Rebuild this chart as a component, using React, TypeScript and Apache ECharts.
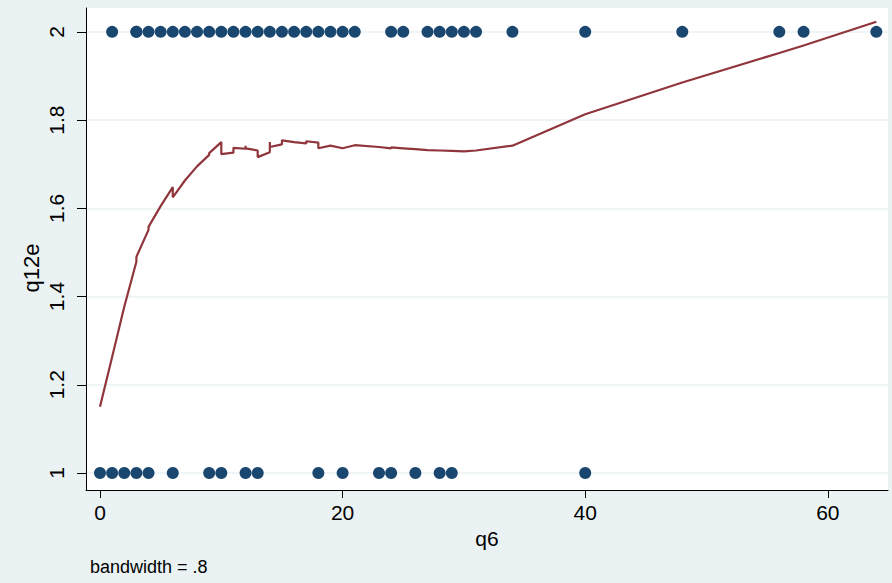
import React, { useEffect, useRef } from "react";
import * as echarts from "echarts";

// Observed q6 values where q12e = 2 and q12e = 1
const q6WhenTwo = [1, 3, 3, 4, 5, 6, 7, 8, 9, 10, 11, 12, 13, 14, 15, 16, 17, 18, 19, 20, 21, 24, 25, 27, 28, 29, 30, 31, 34, 40, 48, 56, 58, 64];
const q6WhenOne = [0, 1, 2, 3, 4, 6, 9, 10, 12, 13, 18, 20, 23, 24, 26, 28, 29, 40];

// Lowess smooth (bandwidth .8): q6 and fitted q12e, repeated q6 values give the small steps
const smoothX = [0, 1, 2, 3, 3, 4, 4, 5, 6, 6, 7, 8, 9, 9, 10, 10, 11, 11, 12, 12, 12, 13, 13, 14, 14, 14, 15, 15, 16, 17, 17, 18, 18, 19, 20, 21, 23, 24, 24, 25, 26, 27, 28, 29, 30, 31, 34, 40, 48, 56, 58, 64];
const smoothY = [1.150, 1.263, 1.377, 1.479, 1.490, 1.551, 1.558, 1.605, 1.648, 1.625, 1.663, 1.695, 1.721, 1.725, 1.750, 1.723, 1.726, 1.737, 1.735, 1.742, 1.736, 1.731, 1.716, 1.727, 1.750, 1.739, 1.745, 1.754, 1.750, 1.747, 1.752, 1.749, 1.736, 1.742, 1.736, 1.743, 1.739, 1.736, 1.738, 1.736, 1.734, 1.732, 1.731, 1.730, 1.729, 1.731, 1.742, 1.813, 1.885, 1.952, 1.969, 2.023];

const xTicks = [0, 20, 40, 60];
const yTicks = [1, 1.2, 1.4, 1.6, 1.8, 2];

const FONT = "'Liberation Sans', Arial, sans-serif";
const BG = "#EAF2F3";

export default function App() {
  const ref = useRef<HTMLDivElement>(null);

  useEffect(() => {
    if (!ref.current) return;
    const chart = echarts.init(ref.current, null, { renderer: "svg" });

    const points = [
      ...q6WhenTwo.map((x) => [x, 2]),
      ...q6WhenOne.map((x) => [x, 1]),
    ];
    const smooth = smoothX.map((x, i) => [x, smoothY[i]]);

    chart.setOption({
      animation: false,
      backgroundColor: BG,
      textStyle: { fontFamily: FONT },
      grid: {
        left: 86,
        top: 8,
        width: 802,
        height: 482,
        show: true,
        backgroundColor: "#ffffff",
        borderWidth: 0,
      },
      xAxis: {
        type: "value",
        min: -1.154,
        max: 64.96,
        name: "q6",
        nameLocation: "middle",
        nameGap: 35,
        nameTextStyle: { fontSize: 21, color: "#000", fontFamily: FONT },
        axisLine: { onZero: false, lineStyle: { color: "#000", width: 1 } },
        axisTick: { customValues: xTicks, length: 8, lineStyle: { color: "#000" } },
        axisLabel: {
          customValues: xTicks,
          fontSize: 21,
          color: "#000",
          margin: 12,
          fontFamily: FONT,
        },
        splitLine: { show: false },
      },
      yAxis: {
        type: "value",
        min: 0.9615,
        max: 2.054,
        axisLine: { show: true, onZero: false, lineStyle: { color: "#000", width: 1 } },
        axisTick: { show: true, customValues: yTicks, length: 9, lineStyle: { color: "#000" } },
        axisLabel: {
          customValues: yTicks,
          rotate: 90,
          fontSize: 21,
          color: "#000",
          margin: 19,
          fontFamily: FONT,
          formatter: (v: number) => String(Number(v.toFixed(1))),
        },
        splitLine: { show: true, lineStyle: { color: BG, width: 1.5 } },
      },
      series: [
        {
          type: "scatter",
          data: points,
          symbol: "circle",
          symbolSize: 12,
          itemStyle: { color: "#1A476F", opacity: 1 },
          z: 2,
        },
        {
          type: "line",
          data: smooth,
          showSymbol: false,
          symbol: "none",
          lineStyle: { color: "#90353B", width: 2.2 },
          z: 3,
        },
      ],
      graphic: [
        {
          type: "text",
          x: 31,
          y: 268,
          rotation: Math.PI / 2,
          style: {
            text: "q12e",
            fontSize: 22,
            fontFamily: FONT,
            fill: "#000",
            align: "center",
            verticalAlign: "middle",
          },
        },
        {
          type: "text",
          x: 90,
          y: 567,
          style: {
            text: "bandwidth = .8",
            fontSize: 18,
            fontFamily: FONT,
            fill: "#000",
            align: "left",
            verticalAlign: "middle",
          },
        },
      ],
    });

    return () => chart.dispose();
  }, []);

  return (
    <div
      ref={ref}
      style={{ position: "fixed", left: 0, top: 0, width: 892, height: 583 }}
    />
  );
}
